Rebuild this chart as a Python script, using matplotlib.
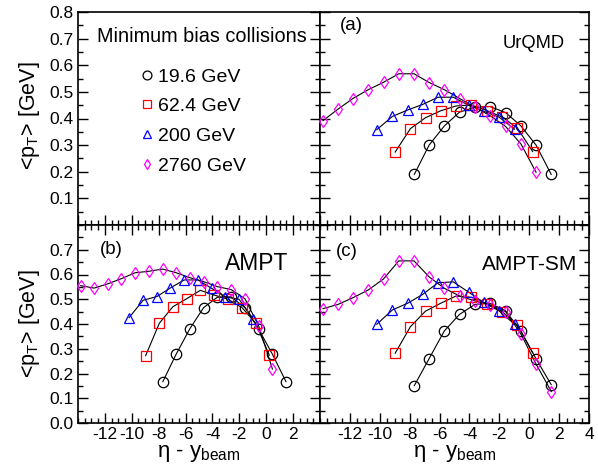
import matplotlib
matplotlib.use('AGG')
import matplotlib.pyplot as plt
from matplotlib.ticker import MultipleLocator

plt.rcParams['font.family'] = ['Liberation Sans', 'DejaVu Sans']
plt.rcParams['mathtext.fontset'] = 'custom'
plt.rcParams['mathtext.rm'] = 'Liberation Sans'
plt.rcParams['axes.unicode_minus'] = False

# eta - y_beam positions for each beam energy
x_19 = [-7.69, -6.70, -5.68, -4.66, -3.64, -2.63, -1.58, -0.57, 0.46, 1.47]
x_62 = [-8.97, -7.95, -6.94, -5.92, -4.90, -3.87, -2.84, -1.80, -0.79, 0.23]
x_200 = [-10.20, -9.15, -8.13, -7.12, -6.10, -5.08, -4.06, -3.04, -2.02, -0.98]
x_2760 = [-13.80, -12.80, -11.80, -10.78, -9.75, -8.73, -7.71, -6.69, -5.67,
          -4.65, -3.63, -2.60, -1.58, -0.56, 0.46, 1.48]

# <pT> values, panel (a) UrQMD
urqmd_19 = [0.190, 0.300, 0.372, 0.424, 0.442, 0.445, 0.422, 0.373, 0.300, 0.190]
urqmd_62 = [0.274, 0.362, 0.403, 0.429, 0.447, 0.451, 0.430, 0.405, 0.364, 0.276]
urqmd_200 = [0.358, 0.408, 0.432, 0.453, 0.480, 0.480, 0.450, 0.427, 0.405, 0.360]
urqmd_2760 = [0.392, 0.435, 0.475, 0.508, 0.536, 0.568, 0.568, 0.535, 0.508,
              0.475, 0.442, 0.410, 0.370, 0.305, 0.198]

# panel (b) AMPT
ampt_19 = [0.167, 0.278, 0.381, 0.466, 0.508, 0.510, 0.466, 0.380, 0.278, 0.167]
ampt_62 = [0.272, 0.403, 0.470, 0.502, 0.536, 0.517, 0.500, 0.466, 0.404, 0.274]
ampt_200 = [0.426, 0.496, 0.511, 0.546, 0.578, 0.578, 0.544, 0.509, 0.500, 0.422]
ampt_2760 = [0.555, 0.545, 0.562, 0.583, 0.607, 0.613, 0.622, 0.607, 0.587,
             0.571, 0.551, 0.539, 0.502, 0.392, 0.218]

# panel (c) AMPT-SM
sm_19 = [0.151, 0.260, 0.372, 0.439, 0.479, 0.484, 0.453, 0.373, 0.259, 0.155]
sm_62 = [0.282, 0.389, 0.452, 0.484, 0.513, 0.508, 0.482, 0.450, 0.395, 0.284]
sm_200 = [0.399, 0.457, 0.484, 0.520, 0.567, 0.570, 0.529, 0.487, 0.453, 0.399]
sm_2760 = [0.462, 0.479, 0.506, 0.537, 0.582, 0.655, 0.655, 0.590, 0.544,
           0.513, 0.493, 0.477, 0.450, 0.360, 0.238, 0.127]

energies = ['19.6 GeV', '62.4 GeV', '200 GeV', '2760 GeV']
colors = ['black', 'red', 'blue', 'magenta']
markers = ['o', 's', '^', 'd']
msizes = [7.5, 7, 7.5, 6.5]

W, H = 598, 470
fig = plt.figure(figsize=(W / 100, H / 100), dpi=100)

xl, xm, xr = 78, 320, 589
yt, ym, yb = 12, 225, 423


def add_panel(x0, x1, y0, y1):
    return fig.add_axes([x0 / W, 1 - y1 / H, (x1 - x0) / W, (y1 - y0) / H])


ax_leg = add_panel(xl, xm, yt, ym)
ax_a = add_panel(xm, xr, yt, ym)
ax_b = add_panel(xl, xm, ym, yb)
ax_c = add_panel(xm, xr, ym, yb)

for ax in [ax_leg, ax_a, ax_b, ax_c]:
    ax.set_xlim(-14, 4)
    ax.set_ylim(0, 0.8)
    ax.xaxis.set_major_locator(MultipleLocator(2))
    ax.xaxis.set_minor_locator(MultipleLocator(0.5))
    ax.yaxis.set_major_locator(MultipleLocator(0.1))
    ax.yaxis.set_minor_locator(MultipleLocator(0.05))
    ax.tick_params(which='both', direction='in', left=True, right=True,
                   labelsize=12.5, width=1, pad=3)
    ax.tick_params(which='major', length=7)
    ax.tick_params(which='minor', length=3.5)
    for s in ax.spines.values():
        s.set_linewidth(1.2)

for ax in [ax_leg, ax_a]:
    ax.tick_params(which='both', top=False, labelbottom=False)
for ax in [ax_b, ax_c]:
    ax.tick_params(which='both', top=True)
for ax in [ax_a, ax_c]:
    ax.tick_params(labelleft=False)

ax_leg.set_yticks([0.1, 0.2, 0.3, 0.4, 0.5, 0.6, 0.7, 0.8])
ax_b.set_yticks([0.0, 0.1, 0.2, 0.3, 0.4, 0.5, 0.6, 0.7])
ax_b.set_xticks([-12, -10, -8, -6, -4, -2, 0, 2])
ax_c.set_xticks([-12, -10, -8, -6, -4, -2, 0, 2, 4])

panels = [
    (ax_a, [urqmd_19, urqmd_62, urqmd_200, urqmd_2760]),
    (ax_b, [ampt_19, ampt_62, ampt_200, ampt_2760]),
    (ax_c, [sm_19, sm_62, sm_200, sm_2760]),
]
xs = [x_19, x_62, x_200, x_2760]
for ax, ys in panels:
    for x, y, c, m, ms in zip(xs, ys, colors, markers, msizes):
        ax.plot(x[:len(y)], y, color='black', lw=0.8, zorder=2)
        ax.plot(x[:len(y)], y, ls='none', marker=m, ms=ms, mfc='none',
                mec=c, mew=0.9, zorder=3, clip_on=False)

# legend in empty top-left panel
handles = [plt.Line2D([], [], ls='none', marker=m, ms=ms * 0.85, mfc='none',
                      mec=c, mew=0.9)
           for c, m, ms in zip(colors, markers, msizes)]
ax_leg.legend(handles, energies, loc='upper left', frameon=False,
              fontsize=14, handlelength=0.6, handletextpad=0.3,
              labelspacing=0.62, borderpad=0, borderaxespad=0,
              bbox_to_anchor=(141 / W, 1 - 68 / H),
              bbox_transform=fig.transFigure)
fig.text(202 / W, 1 - 36 / H, 'Minimum bias collisions', fontsize=14.3,
         ha='center', va='center')

fig.text(351 / W, 1 - 25 / H, '(a)', fontsize=13.5, ha='center', va='center')
fig.text(534 / W, 1 - 43 / H, 'UrQMD', fontsize=13.2, ha='center', va='center')
fig.text(111 / W, 1 - 250 / H, '(b)', fontsize=13.5, ha='center', va='center')
fig.text(257 / W, 1 - 264 / H, 'AMPT', fontsize=16.5, ha='center', va='center')
fig.text(347 / W, 1 - 251 / H, '(c)', fontsize=13.5, ha='center', va='center')
fig.text(530 / W, 1 - 265 / H, 'AMPT-SM', fontsize=15, ha='center', va='center')

ylab = r'<p$_\mathregular{T}$> [GeV]'
fig.text(30 / W, 1 - 116 / H, ylab, fontsize=15.5, rotation=90,
         ha='center', va='center')
fig.text(30 / W, 1 - 324 / H, ylab, fontsize=15.5, rotation=90,
         ha='center', va='center')
xlab = r'η - y$_\mathregular{beam}$'
fig.text(199 / W, 1 - 457 / H, xlab, fontsize=16, ha='center', va='baseline')
fig.text(455 / W, 1 - 457 / H, xlab, fontsize=16, ha='center', va='baseline')

fig.savefig('out.png', dpi=100)
